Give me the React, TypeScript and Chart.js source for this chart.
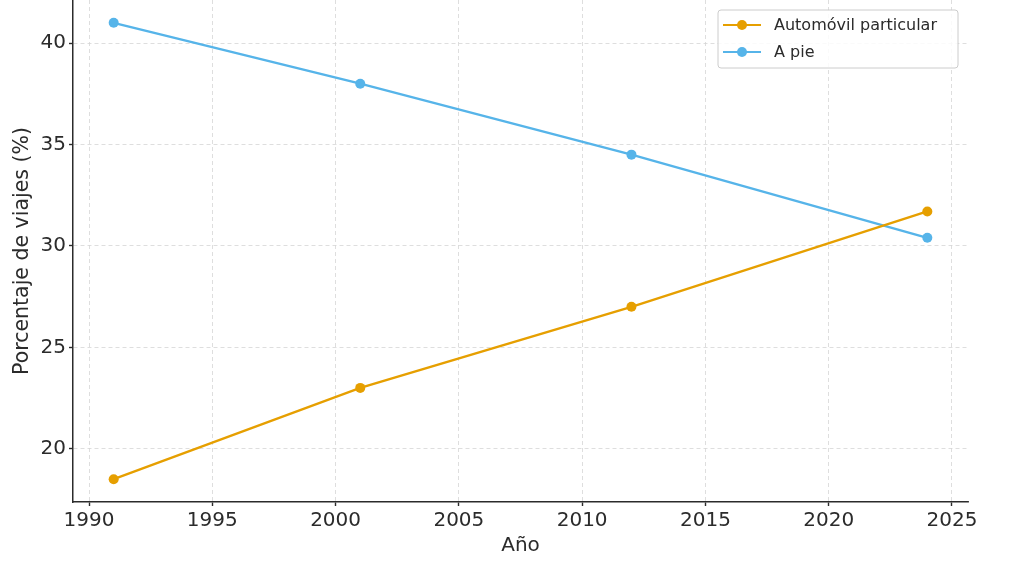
import { useEffect, useRef } from 'react';
import { Chart, registerables } from 'chart.js';

Chart.register(...registerables);

// Data
const years = [1991, 2001, 2012, 2024];
const autoShare = [18.5, 23, 27, 31.7];
const walkShare = [41, 38, 34.5, 30.4];
const seriesLabels = ['Automóvil particular', 'A pie'];
const seriesColors = ['#E69F00', '#56B4E9'];
const xTicks = [1990, 1995, 2000, 2005, 2010, 2015, 2020, 2025];
const yTicks = [20, 25, 30, 35, 40];

const FONT = "'DejaVu Sans', sans-serif";
const TEXT = '#2b2b2b';
const GRID = '#d6d6d6';

// legend box drawn inside the plot area, top right (matplotlib style)
const legendBox = {
  id: 'legendBox',
  afterDraw(chart: Chart) {
    const { ctx, chartArea } = chart;
    const w = 240;
    const h = 58;
    const x = chartArea.right - 10 - w;
    const y = chartArea.top + 10;
    ctx.save();
    ctx.beginPath();
    ctx.roundRect(x, y, w, h, 3);
    ctx.fillStyle = 'rgba(255,255,255,0.85)';
    ctx.fill();
    ctx.strokeStyle = '#cccccc';
    ctx.lineWidth = 1;
    ctx.stroke();
    chart.data.datasets.forEach((ds, i) => {
      const cy = y + 15 + i * 27;
      const color = ds.borderColor as string;
      ctx.strokeStyle = color;
      ctx.lineWidth = 2.2;
      ctx.beginPath();
      ctx.moveTo(x + 5, cy);
      ctx.lineTo(x + 43, cy);
      ctx.stroke();
      ctx.fillStyle = color;
      ctx.beginPath();
      ctx.arc(x + 24, cy, 5, 0, Math.PI * 2);
      ctx.fill();
      ctx.fillStyle = TEXT;
      ctx.font = `16px ${FONT}`;
      ctx.textBaseline = 'middle';
      ctx.textAlign = 'left';
      ctx.fillText(ds.label as string, x + 56, cy + 1);
    });
    ctx.restore();
  },
};

const gridOpts = {
  color: GRID,
  lineWidth: 0.8,
  drawTicks: true,
  tickLength: 4,
  tickColor: '#2b2b2b',
  tickWidth: 1.4,
  tickBorderDash: [],
};

export default function App() {
  const chartRef = useRef<HTMLCanvasElement>(null);
  const chartInstance = useRef<Chart | null>(null);

  useEffect(() => {
    document.body.style.margin = '0';
    if (!chartRef.current) return;
    if (chartInstance.current) chartInstance.current.destroy();

    const ctx = chartRef.current.getContext('2d');
    if (!ctx) return;

    const seriesData = [autoShare, walkShare];

    chartInstance.current = new Chart(ctx, {
      type: 'line',
      data: {
        datasets: seriesLabels.map((label, i) => ({
          label,
          data: years.map((yr, j) => ({ x: yr, y: seriesData[i][j] })),
          borderColor: seriesColors[i],
          backgroundColor: seriesColors[i],
          borderWidth: 2.4,
          pointRadius: 5,
          pointHoverRadius: 5,
          pointBorderWidth: 0,
          tension: 0,
        })),
      },
      options: {
        responsive: false,
        animation: false,
        layout: { autoPadding: false, padding: { top: 0, right: 56, left: 0, bottom: 0 } },
        plugins: {
          legend: { display: false },
          tooltip: { enabled: false },
        },
        scales: {
          x: {
            type: 'linear',
            min: 1989.35,
            max: 2025.65,
            afterBuildTicks: (scale: any) => {
              scale.ticks = xTicks.map((v) => ({ value: v }));
            },
            afterFit: (scale: any) => {
              scale.height = 68;
              scale.paddingLeft = 0;
              scale.paddingRight = 0;
            },
            ticks: {
              font: { family: FONT, size: 20 },
              color: TEXT,
              padding: 3,
              maxRotation: 0,
              callback: (v: any) => String(v),
            },
            grid: gridOpts,
            border: { color: '#2b2b2b', width: 1.5, dash: [4, 3] },
            title: {
              display: true,
              text: 'Año',
              font: { family: FONT, size: 20 },
              color: TEXT,
              padding: { top: 0, bottom: 12 },
            },
          },
          y: {
            min: 17.375,
            max: 42.125,
            afterBuildTicks: (scale: any) => {
              scale.ticks = yTicks.map((v) => ({ value: v }));
            },
            afterFit: (scale: any) => {
              scale.width = 73;
              scale.paddingTop = 0;
              scale.paddingBottom = 0;
            },
            ticks: {
              font: { family: FONT, size: 20 },
              color: TEXT,
              padding: 3,
            },
            grid: gridOpts,
            border: { color: '#2b2b2b', width: 1.5, dash: [4, 3] },
            title: {
              display: true,
              text: 'Porcentaje de viajes (%)',
              font: { family: FONT, size: 20.5 },
              color: TEXT,
              padding: { top: 10, bottom: 0 },
            },
          },
        },
      },
      plugins: [legendBox],
    } as any);

    return () => {
      if (chartInstance.current) {
        chartInstance.current.destroy();
        chartInstance.current = null;
      }
    };
  }, []);

  return (
    <div style={{ width: 1024, height: 570, background: '#fff' }}>
      <canvas ref={chartRef} width={1024} height={570} />
    </div>
  );
}
